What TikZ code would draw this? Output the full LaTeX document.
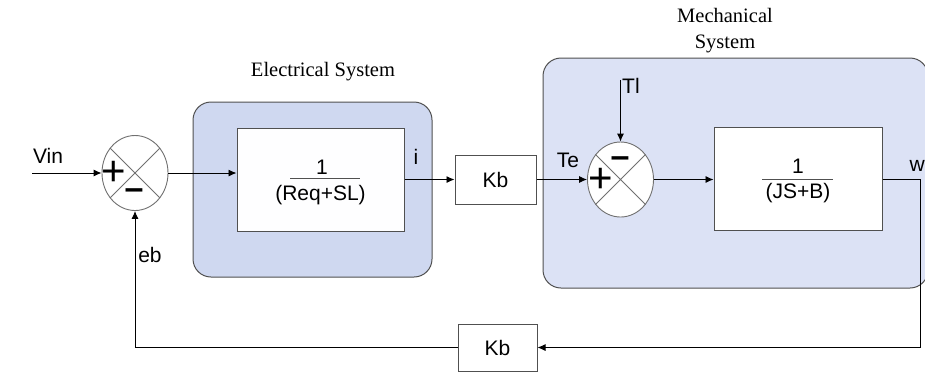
\documentclass[tikz,border=0pt]{standalone}
\usepackage{fontspec}
\setmainfont{Liberation Serif}
\newfontfamily\arial{Liberation Sans}
\usetikzlibrary{arrows.meta,shapes.geometric}
\definecolor{elec}{HTML}{CFD8F0}
\definecolor{mech}{HTML}{DCE2F5}
\definecolor{edge}{HTML}{505050}
\definecolor{xgray}{HTML}{707070}
\begin{document}
\begin{tikzpicture}[x=1pt,y=-1pt,
  sig/.style={draw=black,line width=0.9pt},
  arr/.style={sig,-{Latex[length=8pt,width=7pt]}},
  blk/.style={draw=edge,line width=1pt,fill=white,inner sep=0pt},
  sumj/.style={ellipse,draw=xgray,line width=0.9pt,fill=white,minimum width=66pt,minimum height=75pt,inner sep=0pt},
  grp/.style={draw=edge,line width=1pt,rounded corners=18pt,inner sep=0pt},
  lbl/.style={font=\arial\fontsize{21}{23}\selectfont,inner sep=0pt},
  ttl/.style={font=\fontsize{20.5}{22}\selectfont,inner sep=0pt},
  plussgn/.style={font=\arial\fontsize{42}{42}\selectfont,inner sep=0pt},
  minussgn/.style={font=\arial\bfseries\fontsize{34}{34}\selectfont,inner sep=0pt},
  fbar/.style={draw=edge,line width=0.8pt}
]
\useasboundingbox (0,0) rectangle (925,376);
\fill[white] (0,0) rectangle (925,376);
% groups
\node[grp,fill=elec,minimum width=239pt,minimum height=175pt] (eg) at (312.5,189.5) {};
\node[grp,fill=mech,minimum width=385pt,minimum height=230pt] (mg) at (735.5,173) {};
\node[ttl] (egt) at (323,72) {Electrical System};
\node[ttl] (mgt1) at (725,15) {Mechanical};
\node[ttl] (mgt2) at (725,44) {System};
% blocks
\node[blk,fill=white!97!elec,minimum width=167pt,minimum height=103pt] (b1) at (320.5,179.5) {};
\node[blk,minimum width=81pt,minimum height=49pt,lbl] (k1) at (495.5,179.5) {Kb};
\node[blk,minimum width=168pt,minimum height=103pt] (b2) at (798,178.5) {};
\node[blk,minimum width=79pt,minimum height=47pt,lbl] (k2) at (497.5,347.5) {Kb};
% fractions
\node[lbl] (b1n) at (322,167) {1};
\node[lbl] (b1d) at (320.5,195) {(Req+SL)};
\draw[fbar] (290,178) -- (360,178);
\node[lbl] (b2n) at (798,166) {1};
\node[lbl] (b2d) at (798,193) {(JS+B)};
\draw[fbar] (762,179) -- (833,179);
% summing junctions
\node[sumj] (s1) at (135,173) {};
\draw[xgray,line width=0.8pt] (s1.45) -- (s1.225) (s1.135) -- (s1.315);
\node[sumj] (s2) at (620.5,179.5) {};
\draw[xgray,line width=0.8pt] (s2.45) -- (s2.225) (s2.135) -- (s2.315);
% signs
\node[plussgn] (p1) at (114,173) {+};
\node[minussgn] (m1) at (134,194) {–};
\node[plussgn] (p2) at (601,180) {+};
\node[minussgn] (m2) at (620,162) {–};
% coordinates
\coordinate (vin) at (32,173);
\coordinate (tl) at (620.5,80);
\coordinate (wc) at (920,179);
\coordinate (wd) at (920,347.5);
\coordinate (ebc) at (135,347.5);
% connectors
\draw[arr] (vin) -- (s1.west);
\draw[arr] (s1.east) -- (s1.east -| b1.west);
\draw[arr] (b1.east) -- (k1.west);
\draw[arr] (k1.east) -- (s2.west);
\draw[arr] (tl) -- (s2.north);
\draw[arr] (s2.east) -- (s2.east -| b2.west);
\draw[arr] (b2.east |- wc) -- (wc) -- (wd) -- (k2.east);
\draw[arr] (k2.west) -- (ebc) -- (s1.south);
% labels
\node[lbl] (lvin) at (48,156) {Vin};
\node[lbl] (leb) at (150,255) {eb};
\node[lbl] (li) at (416,157) {i};
\node[lbl] (lte) at (568,160) {Te};
\node[lbl,anchor=west] (ltl) at (622,86) {Tl};
\node[lbl,anchor=east] (lw) at (925,166) {w};
\end{tikzpicture}
\end{document}
